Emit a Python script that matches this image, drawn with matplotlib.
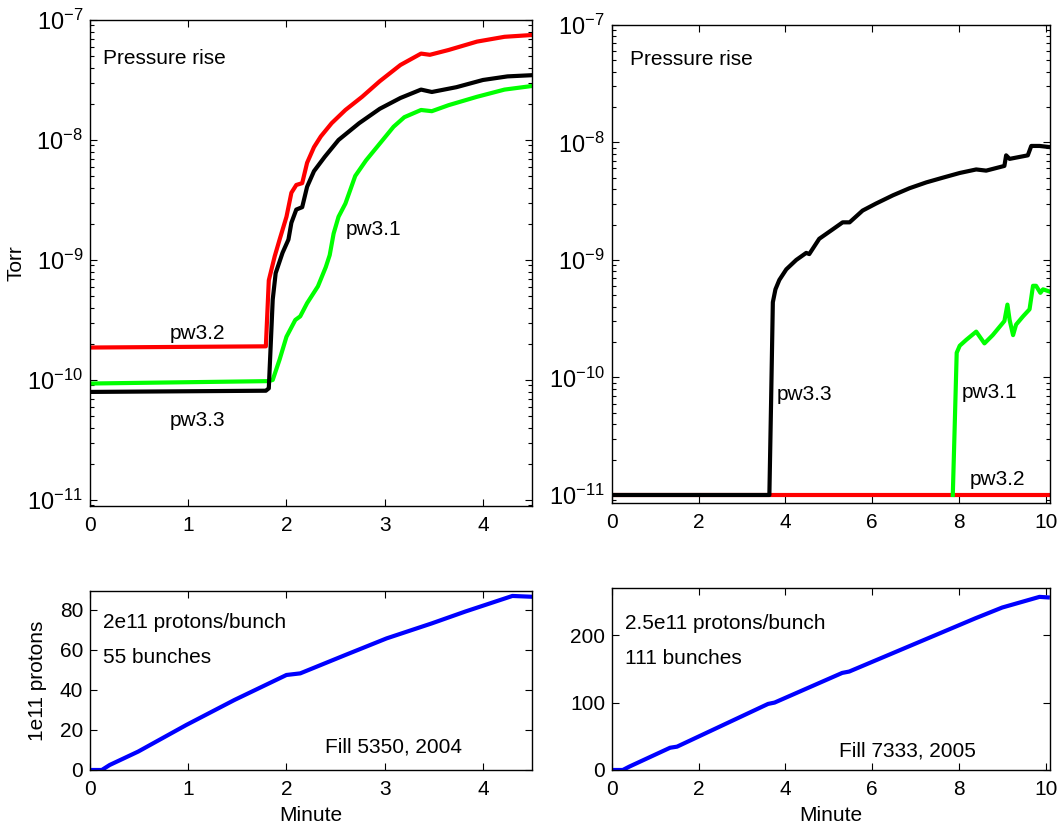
import numpy as np
import matplotlib.pyplot as plt
from matplotlib.ticker import LogLocator, NullFormatter

plt.rcParams['font.family'] = ['Liberation Sans', 'DejaVu Sans']
plt.rcParams['font.size'] = 15
plt.rcParams['mathtext.default'] = 'regular'

# ---- fill 5350 (2004), pressure in Torr (log10), time in minutes
t_pw32_a = [0, 1.79, 1.82, 1.88, 1.93, 2.0, 2.05, 2.1, 2.16, 2.21, 2.28, 2.35, 2.46,
            2.6, 2.77, 2.95, 3.16, 3.37, 3.46, 3.65, 3.94, 4.22, 4.5]
p_pw32_a = [-9.73, -9.72, -9.17, -8.97, -8.83, -8.64, -8.44, -8.375, -8.36, -8.19, -8.06,
            -7.97, -7.86, -7.75, -7.64, -7.51, -7.375, -7.28, -7.29, -7.25, -7.18, -7.14, -7.125]
t_pw33_a = [0, 1.79, 1.82, 1.86, 1.89, 1.96, 2.02, 2.05, 2.1, 2.16, 2.21, 2.28, 2.39,
            2.53, 2.74, 2.95, 3.16, 3.37, 3.48, 3.73, 4.0, 4.25, 4.5]
p_pw33_a = [-10.1, -10.09, -10.07, -9.33, -9.11, -8.94, -8.83, -8.69, -8.58, -8.56, -8.39,
            -8.26, -8.14, -8.0, -7.86, -7.74, -7.65, -7.58, -7.6, -7.56, -7.5, -7.47, -7.46]
t_pw31_a = [0, 1.82, 1.86, 1.93, 2.0, 2.09, 2.14, 2.21, 2.32, 2.4, 2.44, 2.48, 2.53, 2.6,
            2.7, 2.81, 2.95, 3.09, 3.2, 3.37, 3.48, 3.65, 3.94, 4.22, 4.5]
p_pw31_a = [-10.03, -10.01, -10.0, -9.83, -9.64, -9.5, -9.47, -9.36, -9.22, -9.06, -8.96,
            -8.78, -8.64, -8.53, -8.3, -8.17, -8.03, -7.89, -7.81, -7.75, -7.76, -7.71,
            -7.64, -7.58, -7.55]

# ---- fill 7333 (2005)
t_pw33_b = [0, 3.63, 3.67, 3.71, 3.77, 3.86, 4.02, 4.25, 4.48, 4.55, 4.78, 5.09, 5.32, 5.48,
            5.78, 6.09, 6.48, 6.86, 7.25, 7.63, 8.02, 8.4, 8.63, 9.05, 9.09, 9.17, 9.59,
            9.67, 9.86, 10.1]
p_pw33_b = [-11.0, -11.0, -10.2, -9.36, -9.25, -9.17, -9.08, -9.0, -8.94, -8.95, -8.82,
            -8.74, -8.68, -8.68, -8.58, -8.52, -8.45, -8.39, -8.34, -8.3, -8.26, -8.23,
            -8.24, -8.2, -8.11, -8.14, -8.11, -8.03, -8.03, -8.04]
t_pw31_b = [7.86, 7.9, 7.95, 8.02, 8.17, 8.4, 8.59, 8.78, 9.05, 9.12, 9.17, 9.25, 9.32,
            9.48, 9.63, 9.71, 9.78, 9.88, 9.94, 10.1]
p_pw31_b = [-11.0, -10.47, -9.79, -9.73, -9.68, -9.61, -9.71, -9.64, -9.52, -9.38, -9.51,
            -9.64, -9.55, -9.48, -9.42, -9.22, -9.22, -9.28, -9.25, -9.27]
t_pw32_b = [0, 10.1]
p_pw32_b = [-11.0, -11.0]

# ---- beam intensity, 1e11 protons
t_int_a = [0, 0.12, 0.2, 0.49, 0.98, 1.47, 2.0, 2.14, 2.6, 3.02, 3.48, 3.82, 4.3, 4.5]
n_int_a = [0, 0, 2.5, 9.2, 22.5, 35, 47.5, 48.3, 57.5, 65.8, 73.3, 79.2, 87, 86.6]
t_int_b = [0, 0.25, 0.4, 1.34, 1.5, 3.6, 3.75, 5.31, 5.47, 8.38, 9.0, 9.86, 10.05]
n_int_b = [0, 0, 5, 33, 34.6, 98, 100, 144, 146, 225, 241, 256.8, 256]

fig = plt.figure(figsize=(10.63, 8.3), dpi=100)
ax1 = fig.add_axes([0.0847, 0.3904, 0.4158, 0.5855])
ax2 = fig.add_axes([0.5757, 0.3940, 0.4120, 0.5760])
ax3 = fig.add_axes([0.0847, 0.0723, 0.4158, 0.2157])
ax4 = fig.add_axes([0.5757, 0.0723, 0.4120, 0.2193])

lw = 3.0
ax1.plot(t_pw32_a, 10.0 ** np.array(p_pw32_a), color='#ff0000', lw=lw)
ax1.plot(t_pw31_a, 10.0 ** np.array(p_pw31_a), color='#00ff00', lw=lw)
ax1.plot(t_pw33_a, 10.0 ** np.array(p_pw33_a), color='k', lw=lw)

ax2.plot(t_pw32_b, 10.0 ** np.array(p_pw32_b), color='#ff0000', lw=lw)
ax2.plot(t_pw31_b, 10.0 ** np.array(p_pw31_b), color='#00ff00', lw=lw)
ax2.plot(t_pw33_b, 10.0 ** np.array(p_pw33_b), color='k', lw=lw)

ax3.plot(t_int_a, n_int_a, color='#0000ff', lw=lw)
ax4.plot(t_int_b, n_int_b, color='#0000ff', lw=lw)

for ax in (ax1, ax2):
    ax.set_yscale('log')
    ax.yaxis.set_major_locator(LogLocator(base=10, numticks=10))
    ax.yaxis.set_minor_locator(LogLocator(base=10, subs=np.arange(2, 10), numticks=20))
    ax.yaxis.set_minor_formatter(NullFormatter())
    ax.tick_params(axis='y', labelsize=17)
ax1.set_ylim(8.9e-12, 1e-7)
ax2.set_ylim(8.55e-12, 1e-7)
ax1.set_xlim(0, 4.5)
ax2.set_xlim(0, 10.1)
ax3.set_xlim(0, 4.5)
ax4.set_xlim(0, 10.1)
ax3.set_ylim(0, 89.5)
ax4.set_ylim(0, 270)
ax1.set_xticks([0, 1, 2, 3, 4])
ax3.set_xticks([0, 1, 2, 3, 4])
ax2.set_xticks([0, 2, 4, 6, 8, 10])
ax4.set_xticks([0, 2, 4, 6, 8, 10])
ax3.set_yticks([0, 20, 40, 60, 80])
ax4.set_yticks([0, 100, 200])

for ax in (ax1, ax2, ax3, ax4):
    ax.tick_params(which='both', direction='in', top=True, right=True, width=0.8)
    ax.tick_params(which='major', length=5)
    ax.tick_params(which='minor', length=3)
    ax.tick_params(axis='x', pad=7)
    ax.tick_params(axis='y', pad=5)
    for s in ax.spines.values():
        s.set_linewidth(1.0)

ax1.set_ylabel('Torr')
ax1.yaxis.set_label_coords(-0.145, 0.5)
ax3.set_ylabel('1e11 protons')
ax3.yaxis.set_label_coords(-0.098, 0.5)
for ax in (ax3, ax4):
    ax.set_xlabel('Minute')
    ax.xaxis.set_label_coords(0.5, -0.2)

ax1.text(0.03, 0.92, 'Pressure rise', transform=ax1.transAxes, va='center')
ax2.text(0.041, 0.927, 'Pressure rise', transform=ax2.transAxes, va='center')

ax1.text(0.81, 2.45e-10, 'pw3.2', va='center')
ax1.text(0.81, 4.6e-11, 'pw3.3', va='center')
ax1.text(2.6, 1.78e-9, 'pw3.1', va='center')
ax2.text(3.8, 7.2e-11, 'pw3.3', va='center')
ax2.text(8.06, 7.4e-11, 'pw3.1', va='center')
ax2.text(8.26, 1.35e-11, 'pw3.2', va='center')

ax3.text(0.13, 73.5, '2e11 protons/bunch', va='center')
ax3.text(0.13, 56, '55 bunches', va='center')
ax3.text(2.39, 11.5, 'Fill 5350, 2004', va='center')
ax4.text(0.29, 218, '2.5e11 protons/bunch', va='center')
ax4.text(0.29, 166, '111 bunches', va='center')
ax4.text(5.24, 28.6, 'Fill 7333, 2005', va='center')

fig.savefig('out.png', dpi=100)
